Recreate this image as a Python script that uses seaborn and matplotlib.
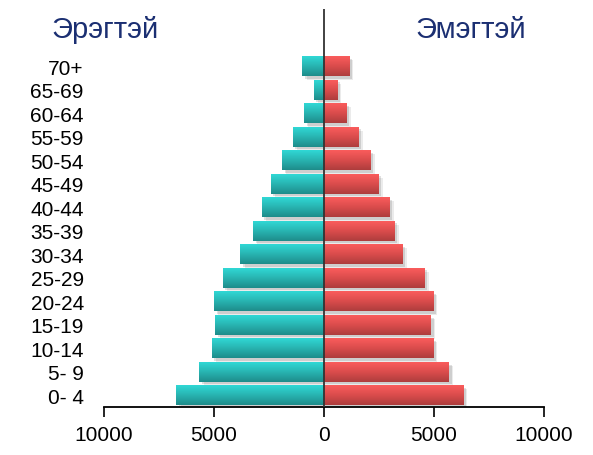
import numpy as np
import pandas as pd
import matplotlib
matplotlib.use('Agg')
import matplotlib.pyplot as plt
import matplotlib.patheffects as pe
from matplotlib.colors import LinearSegmentedColormap
import seaborn as sns

ages = ['70+', '65-69', '60-64', '55-59', '50-54', '45-49', '40-44', '35-39',
        '30-34', '25-29', '20-24', '15-19', '10-14', '5- 9', '0- 4']
male = [980, 470, 920, 1430, 1920, 2430, 2840, 3240, 3800, 4610, 5000, 4940, 5110, 5660, 6710]
female = [1150, 600, 1030, 1570, 2120, 2480, 2980, 3210, 3570, 4570, 4960, 4860, 4960, 5680, 6320]
xticks = [-10000, -5000, 0, 5000, 10000]
xticklabels = ['10000', '5000', '0', '5000', '10000']

df = pd.DataFrame({'age': ages, 'male': [-v for v in male], 'female': female})

sns.set_style('white')
plt.rcParams['font.family'] = ['Liberation Sans', 'DejaVu Sans']

fig = plt.figure(figsize=(5.93, 4.56), dpi=100)
ax = fig.add_axes([0.1754, 0.1053, 0.742, 0.8727])

sns.barplot(data=df, y='age', x='male', order=ages, color='#27b3b1',
            width=0.85, ax=ax, saturation=1)
sns.barplot(data=df, y='age', x='female', order=ages, color='#d84a4a',
            width=0.85, ax=ax, saturation=1)

teal = LinearSegmentedColormap.from_list('teal', ['#1e8c8a', '#28b4b1', '#30d8d5'])
red = LinearSegmentedColormap.from_list('red', ['#ae3d3d', '#da4c4c', '#fa5c5c'])
grad = np.linspace(0, 1, 64).reshape(-1, 1)

for p in ax.patches:
    x0, y0, w, h = p.get_x(), p.get_y(), p.get_width(), p.get_height()
    cmap = teal if x0 + w <= 0.5 else red
    p.set_path_effects([pe.SimplePatchShadow(offset=(3, -3), shadow_rgbFace='#000000', alpha=0.08),
                        pe.SimplePatchShadow(offset=(2, -2), shadow_rgbFace='#000000', alpha=0.12),
                        pe.Normal()])
    p.set_edgecolor('none')
    im = ax.imshow(grad, cmap=cmap, aspect='auto', origin='upper',
                   extent=(x0, x0 + w, y0, y0 + h), zorder=p.get_zorder() + 0.1)
    im.set_clip_path(p)

ax.set_xlim(-10000, 10000)
ax.set_ylim(14.5, -2.43)
ax.axvline(0, color='#333333', lw=1.3, zorder=5)

ax.set_xticks(xticks)
ax.set_xticklabels(xticklabels)
ax.tick_params(axis='x', bottom=True, length=7, width=1.2, color='black',
               labelsize=15, labelcolor='black', pad=6)
ax.tick_params(axis='y', left=False, labelsize=15, labelcolor='black', pad=11)
ax.set_xlabel('')
ax.set_ylabel('')

for s in ['top', 'left', 'right']:
    ax.spines[s].set_visible(False)
ax.spines['bottom'].set_color('black')
ax.spines['bottom'].set_linewidth(1.3)

fig.text(105 / 593, 1 - 30 / 456, 'Эрэгтэй', ha='center', va='center',
         fontsize=21, color='#1b2f72')
fig.text(471 / 593, 1 - 30 / 456, 'Эмэгтэй', ha='center', va='center',
         fontsize=21, color='#1b2f72')

fig.savefig('out.png', dpi=100)
